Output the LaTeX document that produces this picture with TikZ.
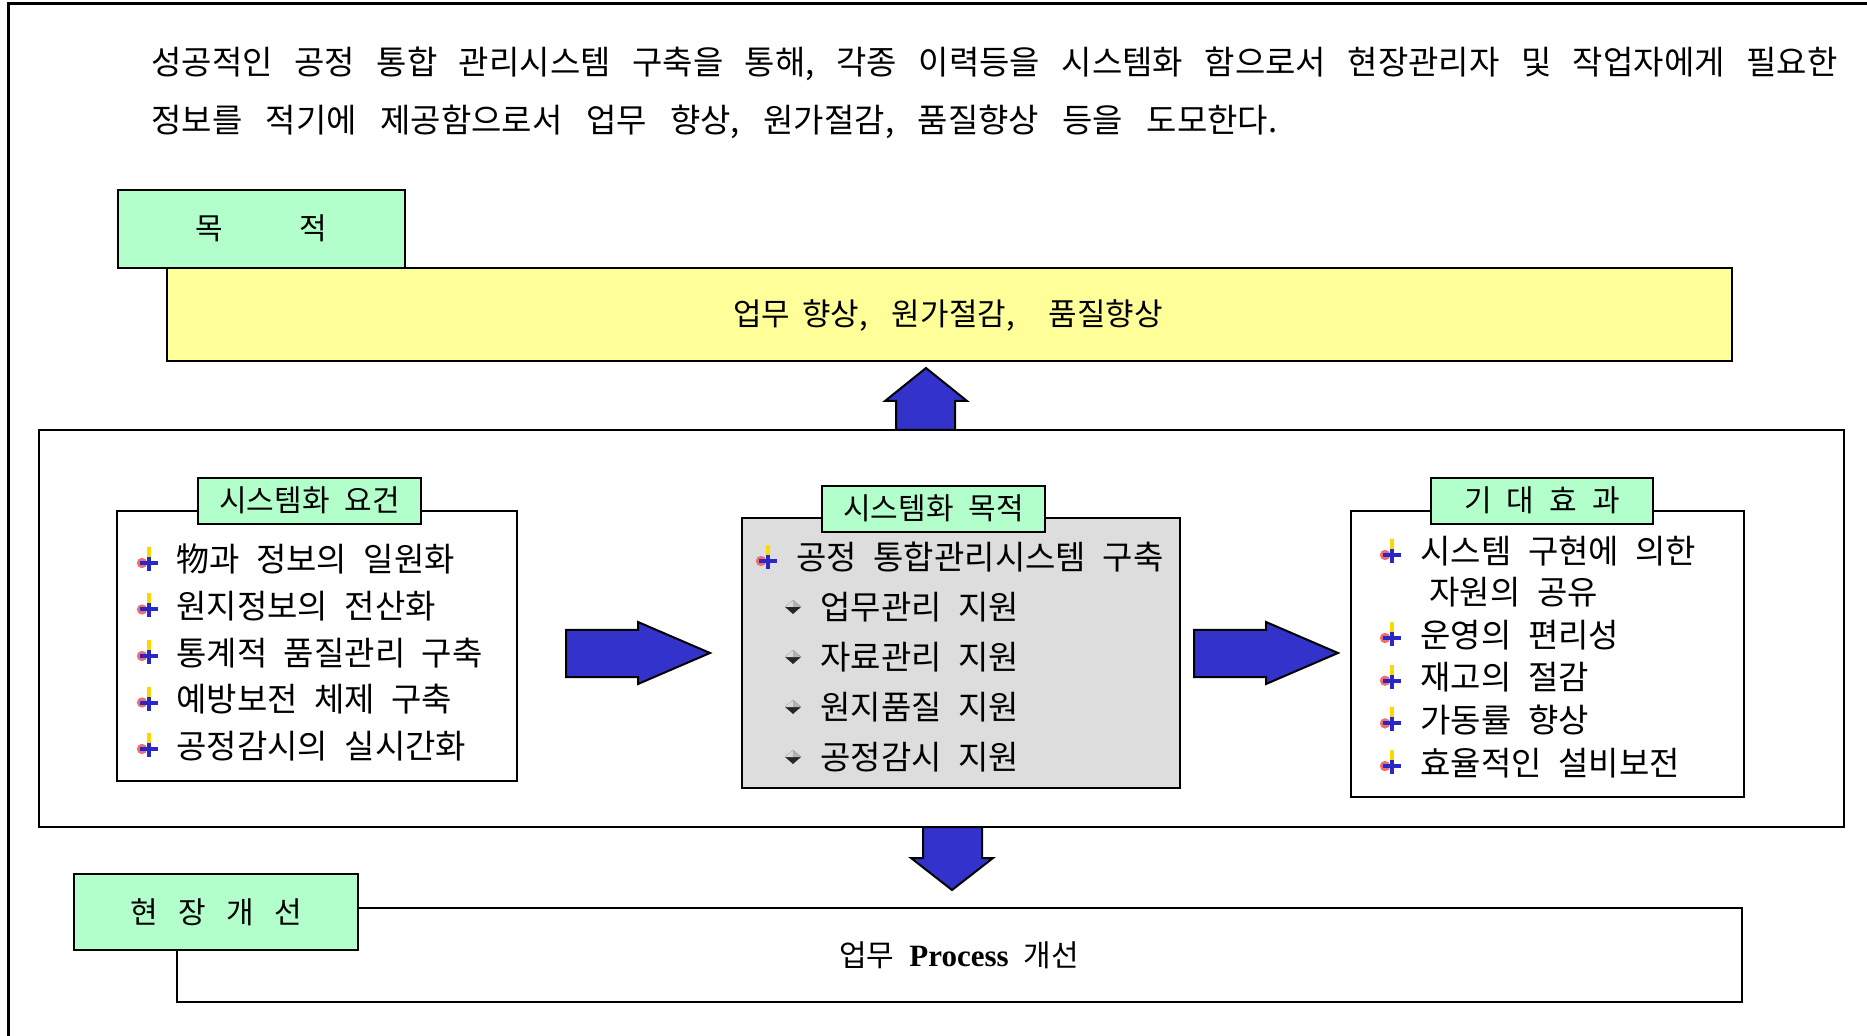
\documentclass[tikz,border=0pt]{standalone}
\usepackage{fontspec}
\setmainfont{Noto Sans CJK KR}
\newfontfamily\latinserif{Liberation Serif}
\usetikzlibrary{fit}

\definecolor{tagGreen}{RGB}{179,255,204}
\definecolor{goalYellow}{RGB}{255,255,153}
\definecolor{panelGray}{RGB}{221,221,221}
\definecolor{arrowBlue}{RGB}{51,51,204}
\definecolor{bulletYellow}{RGB}{255,215,0}
\definecolor{bulletRed}{RGB}{240,110,110}
\definecolor{bulletBlue}{RGB}{40,40,200}

\newcommand{\bodyfont}{\fontsize{16.5pt}{20pt}\selectfont\frenchspacing\spaceskip=.5em plus .5em\relax}
\newcommand{\tagfont}{\fontsize{15pt}{18pt}\selectfont\frenchspacing\spaceskip=.5em plus .5em\relax}
\newcommand{\goalfont}{\fontsize{15.5pt}{18pt}\selectfont\frenchspacing\spaceskip=.5em plus .5em\relax}

\tikzset{
  frame/.style={draw=black, line width=1pt},
  panel/.style={frame, inner sep=0pt},
  tag/.style={frame, fill=tagGreen, inner sep=0pt},
  tagtext/.style={inner sep=0pt, font=\tagfont, text height=12pt, text depth=1pt},
  item/.style={anchor=west, inner sep=0pt, font=\bodyfont, text height=13pt, text depth=1pt},
  blockarrow/.style={draw=black, line width=1pt, fill=arrowBlue, line join=miter},
  bulletplus/.pic={
    \fill[bulletYellow] (-2,-13) rectangle (2,0);
    \fill[bulletRed] (-7,3) circle (2.6pt);
    \fill[bulletBlue] (-9,1) rectangle (9,5);
    \fill[bulletBlue] (-2,-3) rectangle (2,11);
  },
  bulletdiamond/.pic={
    \fill[black!85] (-8,0) -- (0,-7) -- (8,0) -- (0,7) -- cycle;
    \fill[gray!30] (-8,0) -- (0,-7) -- (0,0) -- cycle;
    \fill[gray!60] (0,-7) -- (8,0) -- (0,0) -- cycle;
  }
}

\begin{document}
\begin{tikzpicture}[x=0.5pt, y=-0.5pt]
  \useasboundingbox (0,0) rectangle (1867,1036);

  % page frame
  \draw[line width=1.5pt] (8,1036) -- (8,4) -- (1867,4);

  % intro text
  \node[item] (intro1) at (151,63)
    {\makebox[843pt][s]{성공적인 공정 통합 관리시스템 구축을 통해, 각종 이력등을 시스템화 함으로서 현장관리자 및 작업자에게 필요한}};
  \node[item] (intro2) at (151,121)
    {\makebox[563pt][s]{정보를 적기에 제공함으로서 업무 향상, 원가절감, 품질향상 등을 도모한다.}};

  % goal
  \node[panel, fill=goalYellow, fit={(167,268) (1732,361)}] (goal) {};
  \node[tagtext, font=\goalfont] (goaltext) at (948,315)
    {업무\hspace{6pt}향상,\hspace{12pt}원가절감,\hspace{17pt}품질향상};
  \node[tag, fit={(118,190) (405,268)}] (goaltag) {};
  \node[tagtext] (goaltagtext) at (goaltag.center) {목\hspace{38pt}적};

  % system frame
  \node[panel, fit={(39,430) (1844,827)}] (system) {};
  \draw[blockarrow] (896,430) -- (896,401) -- (885,401) -- (926,368) -- (967,401) -- (955,401) -- (955,430) -- cycle;

  % requirements
  \node[panel, fit={(117,511) (517,781)}] (needs) {};
  \node[tag, fit={(198,478) (421,524)}] (needstag) {};
  \node[tagtext] (needstagtext) at (needstag.center) {시스템화 요건};
  \foreach \txt [count=\i] in {物과 정보의 일원화, 원지정보의 전산화, 통계적 품질관리 구축, 예방보전 체제 구축, 공정감시의 실시간화} {
    \pic at (149,{513.5+46.5*\i}) {bulletplus};
    \node[item] (need\i) at (176,{513.5+46.5*\i}) {\txt};
  }

  % aims
  \node[panel, fill=panelGray, fit={(742,518) (1180,788)}] (aims) {};
  \node[tag, fit={(822,486) (1045,532)}] (aimstag) {};
  \node[tagtext] (aimstagtext) at (aimstag.center) {시스템화 목적};
  \pic at (768,558) {bulletplus};
  \node[item] (aim0) at (796,558) {공정 통합관리시스템 구축};
  \foreach \txt [count=\i] in {업무관리 지원, 자료관리 지원, 원지품질 지원, 공정감시 지원} {
    \pic at (793,{557+50*\i}) {bulletdiamond};
    \node[item] (aim\i) at (820,{557+50*\i}) {\txt};
  }

  % effects
  \node[panel, fit={(1351,511) (1744,797)}] (effects) {};
  \node[tag, fit={(1431,478) (1653,524)}] (effectstag) {};
  \node[tagtext] (effectstagtext) at (effectstag.center) {기 대 효 과};
  \pic at (1392,552) {bulletplus};
  \node[item] (eff1) at (1420,552) {시스템 구현에 의한};
  \node[item] (eff1b) at (1429,592) {자원의 공유};
  \foreach \txt [count=\i from 2] in {운영의 편리성, 재고의 절감, 가동률 향상, 효율적인 설비보전} {
    \pic at (1392,{635+42.7*(\i-2)}) {bulletplus};
    \node[item] (eff\i) at (1420,{635+42.7*(\i-2)}) {\txt};
  }

  % flow arrows
  \draw[blockarrow] (566,630) -- (638,630) -- (638,622) -- (710,653) -- (638,684) -- (638,677) -- (566,677) -- cycle;
  \draw[blockarrow] (1194,630) -- (1266,630) -- (1266,622) -- (1338,653) -- (1266,684) -- (1266,677) -- (1194,677) -- cycle;
  \draw[blockarrow] (923,827) -- (982,827) -- (982,858) -- (993,858) -- (952,890) -- (911,858) -- (923,858) -- cycle;

  % field improvement
  \node[panel, fit={(177,908) (1742,1002)}] (process) {};
  \node[tagtext] (processtext) at (959,955)
    {업무 {\latinserif\bfseries\fontsize{15.5pt}{18pt}\selectfont Process} 개선};
  \node[tag, fit={(74,874) (358,950)}] (fieldtag) {};
  \node[tagtext] (fieldtagtext) at (fieldtag.center) {\makebox[86pt][s]{현 장 개 선}};
\end{tikzpicture}
\end{document}
